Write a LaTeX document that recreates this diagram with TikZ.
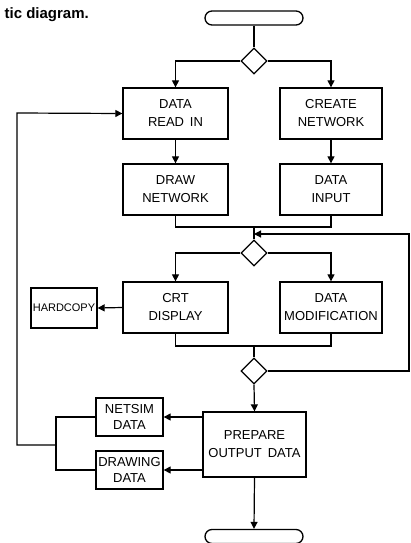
\documentclass[tikz,border=0pt]{standalone}
\usepackage{fontspec}
\setmainfont{Liberation Sans}
\usetikzlibrary{arrows.meta,shapes.geometric}
\begin{document}
\begin{tikzpicture}[x=1pt,y=-1pt,
  box/.style={draw, line width=1.3pt, inner sep=0pt, align=center,
    minimum width=105pt, minimum height=51pt,
    font=\fontsize{13}{18}\selectfont},
  smallbox/.style={draw, line width=1.3pt, inner sep=0pt, align=center,
    minimum width=67pt, minimum height=38pt,
    font=\fontsize{13}{16}\selectfont},
  dec/.style={draw, diamond, minimum size=26pt, inner sep=0pt, line width=1.3pt},
  term/.style={draw, rounded corners=7pt, minimum width=98pt, minimum height=14pt,
    inner sep=0pt, line width=1.3pt},
  link/.style={line width=1.2pt},
  arr/.style={link, -{Triangle[length=7pt,width=7pt]}}
]
\useasboundingbox (0,0) rectangle (411,543);

% caption fragment
\node[anchor=base east, inner sep=0pt, font=\bfseries\fontsize{15}{18}\selectfont]
  (cap) at (89,19) {tic diagram.};

% terminators and decisions
\node[term] (start) at (254,18) {};
\node[dec] (d1) at (254,61) {};
\node[dec] (d2) at (254,253) {};
\node[dec] (d3) at (254,371) {};
\node[term] (stop) at (254,536.5) {};

% process boxes
\node[box] (readin) at (175.5,113.5) {DATA\\READ\hspace{0.45em}IN};
\node[box, minimum width=102pt] (create) at (331,113.5) {CREATE\\NETWORK};
\node[box] (drawnet) at (175.5,189.5) {DRAW\\NETWORK};
\node[box, minimum width=102pt] (datain) at (331,189.5) {DATA\\INPUT};
\node[box] (crt) at (175.5,307.5) {CRT\\DISPLAY};
\node[box, minimum width=102pt] (mod) at (331,307.5) {DATA\\MODIFICATION};
\node[draw, line width=1.3pt, inner sep=0pt, minimum width=66pt, minimum height=40pt,
  font=\fontsize{11}{12}\selectfont] (hard) at (64,308) {HARDCOPY};
\node[box, minimum width=103pt, minimum height=65pt] (prep) at (254.5,444.5)
  {PREPARE\\OUTPUT\hspace{0.45em}DATA};
\node[smallbox] (netsim) at (129.5,417) {NETSIM\\DATA};
\node[smallbox] (drawdat) at (129.5,470) {DRAWING\\DATA};

% junction points
\coordinate (j1) at (254,227);
\coordinate (j2) at (254,346);
\coordinate (rloop) at (409,234);
\coordinate (jl) at (56,445);
\coordinate (lloop) at (17,113);

% start and first branch
\draw[link] (start.south) -- (d1.north);
\draw[arr] (d1.west) -| (readin.north);
\draw[arr] (d1.east) -| (create.north);
\draw[arr] (readin.south) -- (drawnet.north);
\draw[arr] (create.south) -- (datain.north);

% merge and second branch
\draw[link] (drawnet.south) |- (j1) -| (datain.south);
\draw[link] (j1) -- (d2.north);
\draw[arr] (d2.west) -| (crt.north);
\draw[arr] (d2.east) -| (mod.north);
\draw[arr] (crt.west) -- (hard.east);

% merge, loop back and output
\draw[link] (crt.south) |- (j2) -| (mod.south);
\draw[link] (j2) -- (d3.north);
\draw[arr] (d3.east) -| (rloop) -- (254,234);
\draw[arr] (d3.south) -- (prep.north);
\draw[arr] (prep.west |- netsim.east) -- (netsim.east);
\draw[arr] (prep.west |- drawdat.east) -- (drawdat.east);
\draw[arr] (prep.south) -- (stop.north);

% return path to data read-in
\draw[link] (netsim.west) -| (jl) |- (drawdat.west);
\draw[arr] (jl) -| (lloop) -- (readin.west);
\end{tikzpicture}
\end{document}
